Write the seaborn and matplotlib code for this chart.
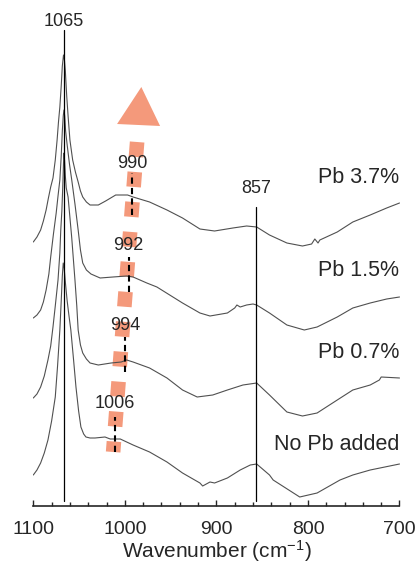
# IR spectra of samples with different Pb content (stacked, offset)
import numpy as np
import pandas as pd
import matplotlib
matplotlib.use('Agg')
import matplotlib.pyplot as plt
from matplotlib.ticker import MultipleLocator
import seaborn as sns

# spectra: wavenumber (cm-1) and offset intensity (arbitrary units)
wn_37 = [1100, 1096, 1092, 1089, 1086, 1083.5, 1081, 1078.5, 1076, 1074, 1072.5, 1071, 1069.5,
         1068.3, 1067, 1066, 1065, 1063.5, 1062, 1060, 1057, 1054, 1051, 1048.5, 1046, 1042,
         1038, 1029, 1021, 1010, 997, 991, 973, 954, 937, 918, 902, 882, 867,
         856, 842, 823, 806, 796, 792.5, 789, 787, 768, 751, 732, 714, 700]
ab_37 = [264, 269, 276, 285, 296, 308, 319, 328, 346, 366, 384, 399, 420,
         440, 451, 446, 435, 410, 390, 366, 346, 334, 324, 315, 309, 304,
         301, 301, 305, 311, 311, 309, 304, 296, 288, 277, 275, 278, 280,
         279, 271, 263, 260, 262, 267, 263, 266, 274, 284, 291, 298, 303]

wn_15 = [1100, 1096, 1092, 1089, 1086, 1083, 1081, 1078, 1075, 1073, 1071, 1069.5, 1068.3,
         1067.3, 1066.5, 1065.7, 1064.7, 1063, 1060.5, 1058, 1054.5, 1051, 1048.5, 1046, 1042,
         1037, 1027, 1013, 998, 991, 976, 965, 951, 937, 918, 907, 888, 880,
         877.6, 874, 867, 860, 856, 842, 823, 804, 790, 768, 751, 732, 714, 700]
ab_15 = [188, 191, 196, 204, 216, 232, 249, 272, 293, 310, 326, 350, 375,
         390, 396, 390, 375, 361, 342, 326, 302, 276, 256, 243, 236,
         232, 228, 229, 230, 229, 223, 219, 211, 203, 193, 190, 193, 198,
         201, 199, 201, 202, 201, 193, 181, 176, 179, 189, 198, 203, 207, 209]

wn_07 = [1100, 1096, 1092, 1088, 1084, 1081, 1078.5, 1076, 1073, 1071, 1070, 1068.8, 1067.8,
         1067, 1066.5, 1065.8, 1065, 1064, 1062, 1058, 1054.5, 1052.5, 1051, 1048.5, 1046,
         1042, 1038, 1029, 1015, 1004, 998, 991, 973, 954, 937, 921, 904,
         888, 871, 856, 842, 823, 806, 790, 768, 751, 732, 722, 720, 700]
ab_07 = [108, 112, 119, 130, 146, 160, 179, 200, 226, 253, 276, 295, 320,
         343, 353, 345, 330, 318, 309, 268, 226, 200, 176, 161, 153,
         147, 143, 141, 143, 144, 146, 144, 138, 128, 116, 109, 111,
         116, 121, 123, 111, 94, 90, 93, 106, 116, 121, 126, 129, 128]

wn_00 = [1100, 1096, 1092, 1088, 1084, 1080, 1076, 1073.5, 1071, 1069.5, 1068.3, 1067.3,
         1066.3, 1065, 1063, 1061, 1059, 1056, 1053.4, 1050.5, 1048, 1045, 1042.5, 1038,
         1032.6, 1021.7, 1016, 1005, 991, 973, 954, 937, 918, 915, 907, 902, 888, 874,
         863, 856, 842, 838, 809, 790, 765, 751, 732, 700]
ab_00 = [31, 36, 43, 53, 66, 85, 109, 140, 176, 205, 230, 243,
         238, 224, 205, 190, 176, 146, 119, 95, 79, 72, 69, 68,
         68, 69, 67, 67, 61, 54, 44, 33, 23, 20, 24, 23, 28, 36,
         41, 42, 31, 26, 9, 13, 26, 31, 36, 42]

sample_names = ['Pb 3.7%', 'Pb 1.5%', 'Pb 0.7%', 'No Pb added']
name_y = [329, 236, 153, 61]

# reference bands
ref_pos = [1067, 857]
ref_labels = ['1065', '857']
ref_top = [476, 299]
ref_label_y = [485, 318]

# shifting shoulder band
shift_pos = [992, 996, 1000, 1011]
shift_labels = ['990', '992', '994', '1006']
shift_lo = [291, 214, 134, 54]
shift_hi = [333, 249, 169, 89]
shift_label_y = [343, 261, 181, 103]

# trend arrow
arrow_x = [986.6, 1012.8]
arrow_y = [364, 54]
head_x = [982, 1008.5, 961.5]
head_y = [419, 382, 380]

sns.set_style('ticks')
plt.rcParams['font.family'] = ['Liberation Sans', 'DejaVu Sans']
plt.rcParams['mathtext.fontset'] = 'custom'
plt.rcParams['mathtext.rm'] = 'Liberation Sans'
plt.rcParams['mathtext.it'] = 'Liberation Sans'

salmon = '#F4997B'
line_col = '#505050'

fig = plt.figure(figsize=(4.18, 5.66), dpi=100)
ax = fig.add_axes([33.3 / 418, 60 / 566, 366.2 / 418, 506 / 566])

# arrow behind everything
ax.plot(arrow_x, arrow_y, color=salmon, lw=10.5, linestyle=(0, (1.03, 1.03)),
        solid_capstyle='butt', dash_capstyle='butt', zorder=1)
ax.fill(head_x, head_y, color=salmon, lw=0, zorder=1)

for wn, ab in [(wn_37, ab_37), (wn_15, ab_15), (wn_07, ab_07), (wn_00, ab_00)]:
    df = pd.DataFrame({'wn': wn, 'ab': ab})
    sns.lineplot(data=df, x='wn', y='ab', ax=ax, color=line_col, lw=0.8,
                 sort=False, estimator=None, zorder=3)

for name, y in zip(sample_names, name_y):
    ax.text(700, y, name, ha='right', va='center', fontsize=15.5, zorder=5)

for pos, lab, top, ly in zip(ref_pos, ref_labels, ref_top, ref_label_y):
    ax.plot([pos, pos], [5, top], color='black', lw=0.9, zorder=4)
    ax.text(pos, ly, lab, ha='center', va='center', fontsize=13, zorder=5)

for pos, lab, lo, hi, ly in zip(shift_pos, shift_labels, shift_lo, shift_hi, shift_label_y):
    ax.plot([pos, pos], [lo, hi], color='black', lw=1.5, linestyle=(0, (3, 2)), zorder=4)
    ax.text(pos, ly, lab, ha='center', va='center', fontsize=13, zorder=5)

ax.set_xlim(1100, 700)
ax.set_ylim(0, 506)
ax.set_xticks([1100, 1000, 900, 800, 700])
ax.xaxis.set_minor_locator(MultipleLocator(20))
ax.tick_params(axis='x', which='major', direction='in', length=4.5, width=1,
               labelsize=14, pad=11)
ax.tick_params(axis='x', which='minor', direction='in', length=3, width=1)
ax.set_yticks([])
ax.set_ylabel('')
ax.set_xlabel('Wavenumber (cm$^{-1}$)', fontsize=15, labelpad=0)
for s in ['left', 'top', 'right']:
    ax.spines[s].set_visible(False)
ax.spines['bottom'].set_linewidth(1.2)
ax.patch.set_alpha(0)

fig.savefig('out.png', dpi=100)
